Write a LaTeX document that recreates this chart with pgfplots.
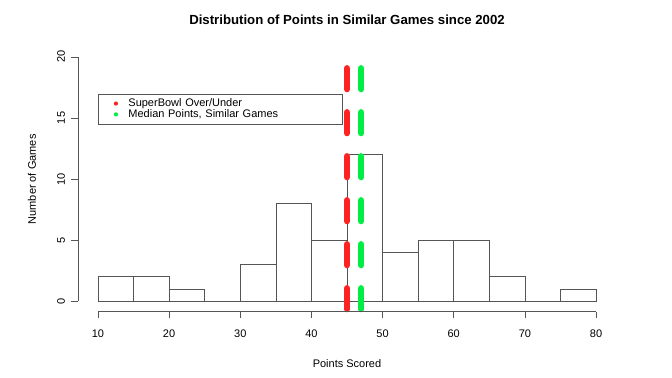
\documentclass[border=0pt]{standalone}
\usepackage{pgfplots}
\pgfplotsset{compat=1.18}
\usepackage{fontspec}
\setmainfont{Liberation Sans}
\definecolor{rred}{HTML}{FF2222}
\definecolor{rgreen}{HTML}{00EE44}
\definecolor{axgray}{HTML}{555555}
\begin{document}
\begin{tikzpicture}
\path[use as bounding box] (-78bp,-65.6bp) rectangle (594bp,311.6bp);
\begin{axis}[
  scale only axis,
  width=538bp, height=264.5bp,
  xmin=7.2, xmax=82.8, ymin=-0.85, ymax=20.8,
  clip=false,
  axis x line*=bottom, axis y line*=left,
  axis line style={draw=none},
  tick align=outside,
  major tick length=6.5bp,
  tick style={axgray, line width=0.6bp},
  xtick={10,20,...,80}, ytick={0,5,...,20},
  minor tick num=0,
  font=\fontsize{11bp}{13bp}\selectfont,
  /pgf/number format/assume math mode=true,
  xticklabel shift=8bp,
  yticklabel shift=3bp,
  xticklabel style={anchor=north, font=\fontsize{11bp}{13bp}\selectfont},
  yticklabel style={rotate=90, anchor=south, font=\fontsize{11bp}{13bp}\selectfont},
  xlabel={Points Scored},
  ylabel={Number of Games},
  xlabel style={at={(axis description cs:0.5,-0.21)}, anchor=base, font=\fontsize{11bp}{13bp}\selectfont},
  ylabel style={at={(axis description cs:-0.0855,0.5)}, anchor=center, rotate=0, font=\fontsize{11bp}{13bp}\selectfont},
  title={Distribution of Points in Similar Games since 2002},
  title style={at={(axis description cs:0.5,1.064)}, anchor=base, font=\fontsize{13.2bp}{15bp}\selectfont\bfseries},
  legend style={at={(axis cs:10,17)}, anchor=north west, draw=axgray, line width=0.6bp,
    inner xsep=2bp, inner ysep=3bp, row sep=-2.6bp,
    font=\fontsize{11bp}{12bp}\selectfont,
    cells={anchor=west, text width=210bp}},
]
\addplot[ybar interval, fill=none, draw=axgray, line width=0.6bp, forget plot]
  coordinates {(10,2) (15,2) (20,1) (25,0) (30,3) (35,8) (40,5) (45,12) (50,4) (55,5) (60,5) (65,2) (70,0) (75,1) (80,0)};
\addplot[rred, line width=6.2bp, line cap=round, dash pattern=on 21bp off 23bp, dash phase=22.9bp,
  legend image code/.code={\path (0bp,0) (20bp,0); \fill[rred] (12.6bp,0) circle (2.1bp);}]
  coordinates {(45,20.8) (45,-0.85)};
\addlegendentry{SuperBowl Over/Under}
\addplot[rgreen, line width=6.2bp, line cap=round, dash pattern=on 21bp off 23bp, dash phase=22.9bp,
  legend image code/.code={\path (0bp,0) (20bp,0); \fill[rgreen] (12.6bp,0) circle (2.1bp);}]
  coordinates {(47,20.8) (47,-0.85)};
\addlegendentry{Median Points, Similar Games}
\draw[axgray, line width=0.6bp] (axis cs:10,-0.85) -- (axis cs:80,-0.85);
\draw[axgray, line width=0.6bp] (axis cs:7.2,0) -- (axis cs:7.2,20);
\end{axis}
\end{tikzpicture}
\end{document}
